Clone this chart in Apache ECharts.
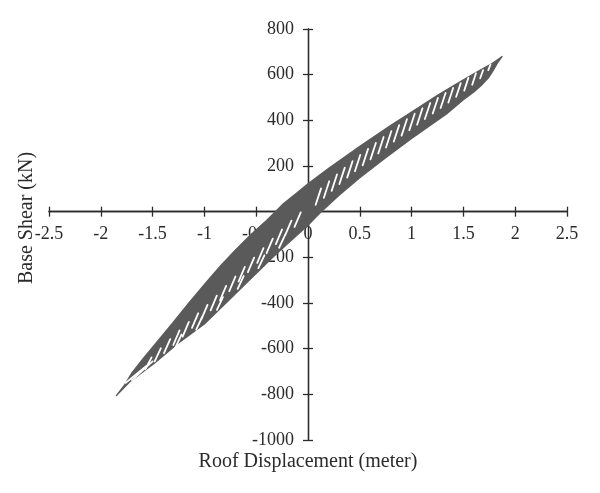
<!DOCTYPE html>
<html><head><meta charset="utf-8">
<script src="https://cdn.jsdelivr.net/npm/echarts@6/dist/echarts.min.js"></script>
<style>html,body{margin:0;padding:0;background:#fff}#c{width:600px;height:493px}</style>
</head><body><div id="c"></div>
<script>
// Axis ranges / ticks
const xTickValues = [-2.5,-2,-1.5,-1,-0.5,0,0.5,1,1.5,2,2.5];
const yTickValues = [-1000,-800,-600,-400,-200,0,200,400,600,800];
const xTitle = 'Roof Displacement (meter)';
const yTitle = 'Base Shear (kN)';

// Hysteresis band: upper (unloading) branch, from negative peak to positive peak [displacement m, shear kN]
const upperBranch = [[-1.85,-806],[-1.77,-758],[-1.70,-706],[-1.60,-648],[-1.45,-566],[-1.30,-484],[-1.15,-400],[-1.0,-318],[-0.85,-240],[-0.7,-168],[-0.55,-100],[-0.4,-38],[-0.25,30],[-0.1,85],[0,122],[0.2,190],[0.5,287],[0.8,378],[1.0,437],[1.25,510],[1.5,578],[1.659,619],[1.78,650],[1.874,680]];
// lower (loading) branch, from negative peak to positive peak
const lowerBranch = [[-1.85,-806],[-1.72,-745],[-1.48,-663],[-1.25,-575],[-1.0,-492],[-0.75,-382],[-0.56,-297],[-0.35,-204],[-0.2,-142],[0,-60],[0.12,-4],[0.3,72],[0.5,148],[0.75,236],[1.0,320],[1.337,428],[1.5,490],[1.6,524],[1.68,556],[1.74,585],[1.79,620],[1.83,652],[1.874,680]];
// Gaps between successive cycles (reversal segments): [x1, y1, x2, y2]
const cycleGaps = [
 [0.074,30,0.126,102],[0.153,61,0.205,133],[0.228,91,0.28,163],[0.303,121,0.355,193],[0.378,149,0.43,221],
 [0.453,177,0.505,249],[0.528,203,0.58,275],[0.603,229,0.655,301],[0.678,255,0.73,327],[0.753,281,0.805,353],
 [0.828,307,0.88,379],[0.903,333,0.955,405],[0.978,357,1.03,429],[1.053,381,1.105,453],[1.128,406,1.18,476],
 [1.204,430,1.254,498],[1.28,454,1.328,520],[1.355,478,1.401,542],[1.43,503,1.474,563],[1.508,530,1.548,586],
 [1.585,556,1.621,606],[1.662,584,1.69,620],[1.74,620,1.762,645],
 [-0.13,-67,-0.07,-3],[-0.22,-103,-0.16,-39],[-0.31,-142,-0.25,-78],[-0.40,-182,-0.34,-118],
 [-0.49,-224,-0.43,-160],[-0.58,-265,-0.52,-201],[-0.67,-306,-0.61,-242],[-0.76,-348,-0.70,-284],
 [-0.85,-389,-0.79,-325],[-0.94,-432,-0.88,-368],[-1.03,-472,-0.97,-408],[-1.12,-509,-1.06,-445],
 [-1.21,-547,-1.15,-483],[-1.30,-584,-1.24,-520],[-1.39,-620,-1.33,-558],[-1.48,-656,-1.42,-598],
 [-1.57,-690,-1.51,-638],
 [-0.279,-158,-0.221,-102],[-0.479,-247,-0.421,-191],[-0.679,-338,-0.621,-282],[-0.879,-430,-0.821,-374],
 [-1.079,-517,-1.021,-461],[-1.279,-594,-1.221,-538],
 [-1.76,-750,-1.56,-676],[-1.70,-738,-1.50,-656]
];

const FONT = 'Liberation Serif';
const TXT = '#2b2b2b';
const bandOutline = upperBranch.concat(lowerBranch.slice().reverse());

const chart = echarts.init(document.getElementById('c'), null, {renderer:'canvas'});
const axisLineStyle = {color:'#2b2b2b', width:1.3};
const plainNum = v => String(v);
const xBase = {type:'value', min:xTickValues[0], max:xTickValues[xTickValues.length-1], interval:0.5,
  splitLine:{show:false}, axisLine:{onZero:false, lineStyle:axisLineStyle}};
const yBase = {type:'value', min:yTickValues[0], max:yTickValues[yTickValues.length-1], interval:200,
  splitLine:{show:false}, axisLine:{onZero:false, lineStyle:axisLineStyle}};

// grid: left 49, right 33 (width 518), top 29, bottom 53 (height 411)
const gridH = 411, gridW = 518;
const yZeroFromTop = gridH * yTickValues[yTickValues.length-1] / (yTickValues[yTickValues.length-1]-yTickValues[0]);
const xZeroFromLeft = gridW * (0 - xTickValues[0]) / (xTickValues[xTickValues.length-1]-xTickValues[0]);

chart.setOption({
  animation:false,
  backgroundColor:'#fff',
  grid:{left:49, right:33, top:29, bottom:53, containLabel:false, outerBoundsMode:'none'},
  xAxis:[
    Object.assign({}, xBase, {position:'bottom', offset:-(gridH - yZeroFromTop),
      axisTick:{show:true, inside:false, length:5, lineStyle:axisLineStyle},
      axisLabel:{show:true, margin:14, fontFamily:FONT, fontSize:18, color:TXT, showMinLabel:true, showMaxLabel:true, formatter:plainNum},
      name:xTitle, nameLocation:'middle', nameGap:240,
      nameTextStyle:{fontFamily:FONT, fontSize:20, color:TXT}}),
    Object.assign({}, xBase, {position:'top', offset:-yZeroFromTop,
      axisTick:{show:true, inside:false, length:5, lineStyle:axisLineStyle},
      axisLabel:{show:false}})
  ],
  yAxis:[
    Object.assign({}, yBase, {position:'left', offset:-xZeroFromLeft,
      axisTick:{show:true, inside:false, length:5, lineStyle:axisLineStyle},
      axisLabel:{show:true, margin:14, fontFamily:FONT, fontSize:18, color:TXT, showMinLabel:true, showMaxLabel:true, formatter:plainNum}}),
    Object.assign({}, yBase, {position:'right', offset:-(gridW - xZeroFromLeft),
      axisTick:{show:true, inside:false, length:5, lineStyle:axisLineStyle},
      axisLabel:{show:false}})
  ],
  graphic:[{type:'text', x:27, y:218, rotation:Math.PI/2,
    style:{text:yTitle, fontFamily:FONT, fontSize:20, fill:TXT, textAlign:'center', textVerticalAlign:'middle'}}],
  series:[
    {type:'custom', name:'band', xAxisIndex:0, yAxisIndex:0, coordinateSystem:'cartesian2d',
     data:[[0,0]], encode:{x:0,y:1}, silent:true, z:2,
     renderItem:function(params, api){
       return {type:'polygon', shape:{points: bandOutline.map(p=>api.coord(p))},
         style:{fill:'#5a5a5a', stroke:'#5a5a5a', lineWidth:1.2, lineJoin:'round'}};
     }},
    {type:'custom', name:'gaps', xAxisIndex:0, yAxisIndex:0, coordinateSystem:'cartesian2d',
     data:cycleGaps, encode:{x:[0,2], y:[1,3]}, silent:true, z:3,
     renderItem:function(params, api){
       const a = api.coord([api.value(0), api.value(1)]);
       const b = api.coord([api.value(2), api.value(3)]);
       return {type:'line', shape:{x1:a[0], y1:a[1], x2:b[0], y2:b[1]},
         style:{stroke:'#ffffff', lineWidth:1.8, lineCap:'round'}};
     }}
  ]
});
</script></body></html>
